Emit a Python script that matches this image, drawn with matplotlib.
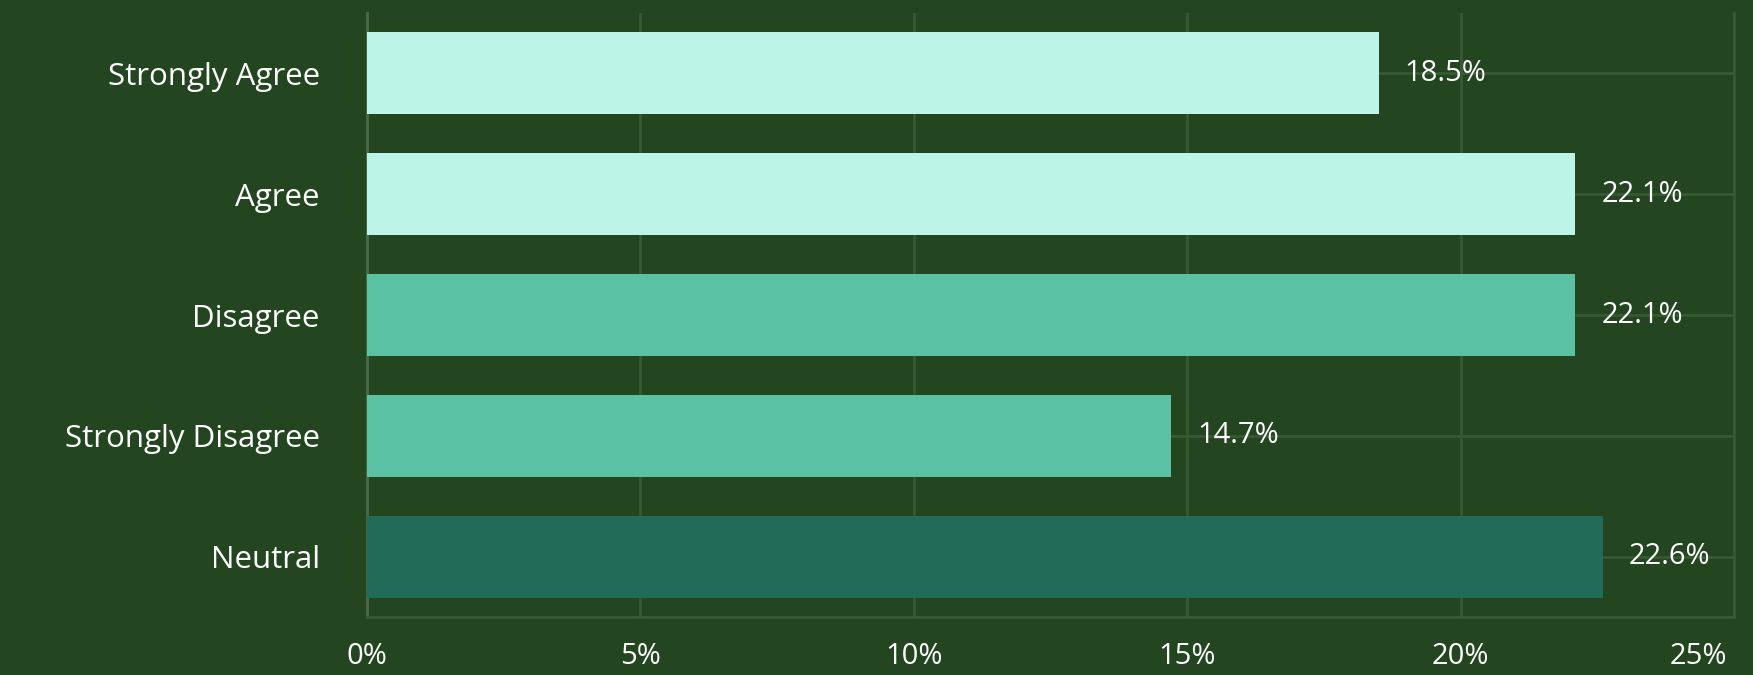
import numpy as np
import matplotlib
matplotlib.use("Agg")
from matplotlib import pyplot as plt
from matplotlib import transforms

# survey responses, top to bottom
categories = ["Strongly Agree", "Agree", "Disagree", "Strongly Disagree", "Neutral"]
shares = [18.5, 22.1, 22.1, 14.7, 22.6]
bar_colors = ["#bdf4e8", "#bdf4e8", "#5ac2a2", "#5ac2a2", "#216b58"]
xticks = [0, 5, 10, 15, 20, 25]

bg = "#234621"
grid_col = "#375a35"
text_col = "#ffffff"
fsize = 21

plt.rcParams['font.family'] = ['Open Sans', 'DejaVu Sans']

fig = plt.figure(figsize=(17.53, 6.75), dpi=100, facecolor=bg)
ax = fig.add_axes([0.2094, 0.0859, 0.9892 - 0.2094, 0.9807 - 0.0859])
ax.set_facecolor(bg)

y = np.arange(len(categories))
ax.barh(y, shares, height=0.68, color=bar_colors, zorder=3)

for yi, v in zip(y, shares):
    ax.annotate(f"{v}%", xy=(v, yi), xytext=(26, 0), textcoords="offset pixels",
                va="center", ha="left", color=text_col, fontsize=fsize, zorder=4)

ax.set_xlim(0, 25)
ax.set_ylim(len(categories) - 0.5, -0.5)
ax.set_yticks(y)
ax.set_yticklabels(categories)
ax.set_xticks(xticks)
ax.set_xticklabels([f"{t}%" for t in xticks])

ax.tick_params(axis="both", length=0, colors=text_col, labelsize=fsize)
ax.tick_params(axis="y", pad=34, labelsize=22.5)
ax.tick_params(axis="x", pad=18)

# keep the last x label inside the figure
last = ax.get_xticklabels()[-1]
last.set_horizontalalignment("right")
last.set_transform(last.get_transform() + transforms.ScaledTranslation(-0.07, 0, fig.dpi_scale_trans))

ax.grid(True, color=grid_col, linewidth=2, zorder=0)
ax.set_axisbelow(True)
ax.spines["top"].set_visible(False)
for side in ["right", "bottom"]:
    ax.spines[side].set_color(grid_col)
    ax.spines[side].set_linewidth(2)
ax.spines["left"].set_color("#4b6a48")
ax.spines["left"].set_linewidth(2)

plt.savefig("out.png", dpi=100, facecolor=bg)
